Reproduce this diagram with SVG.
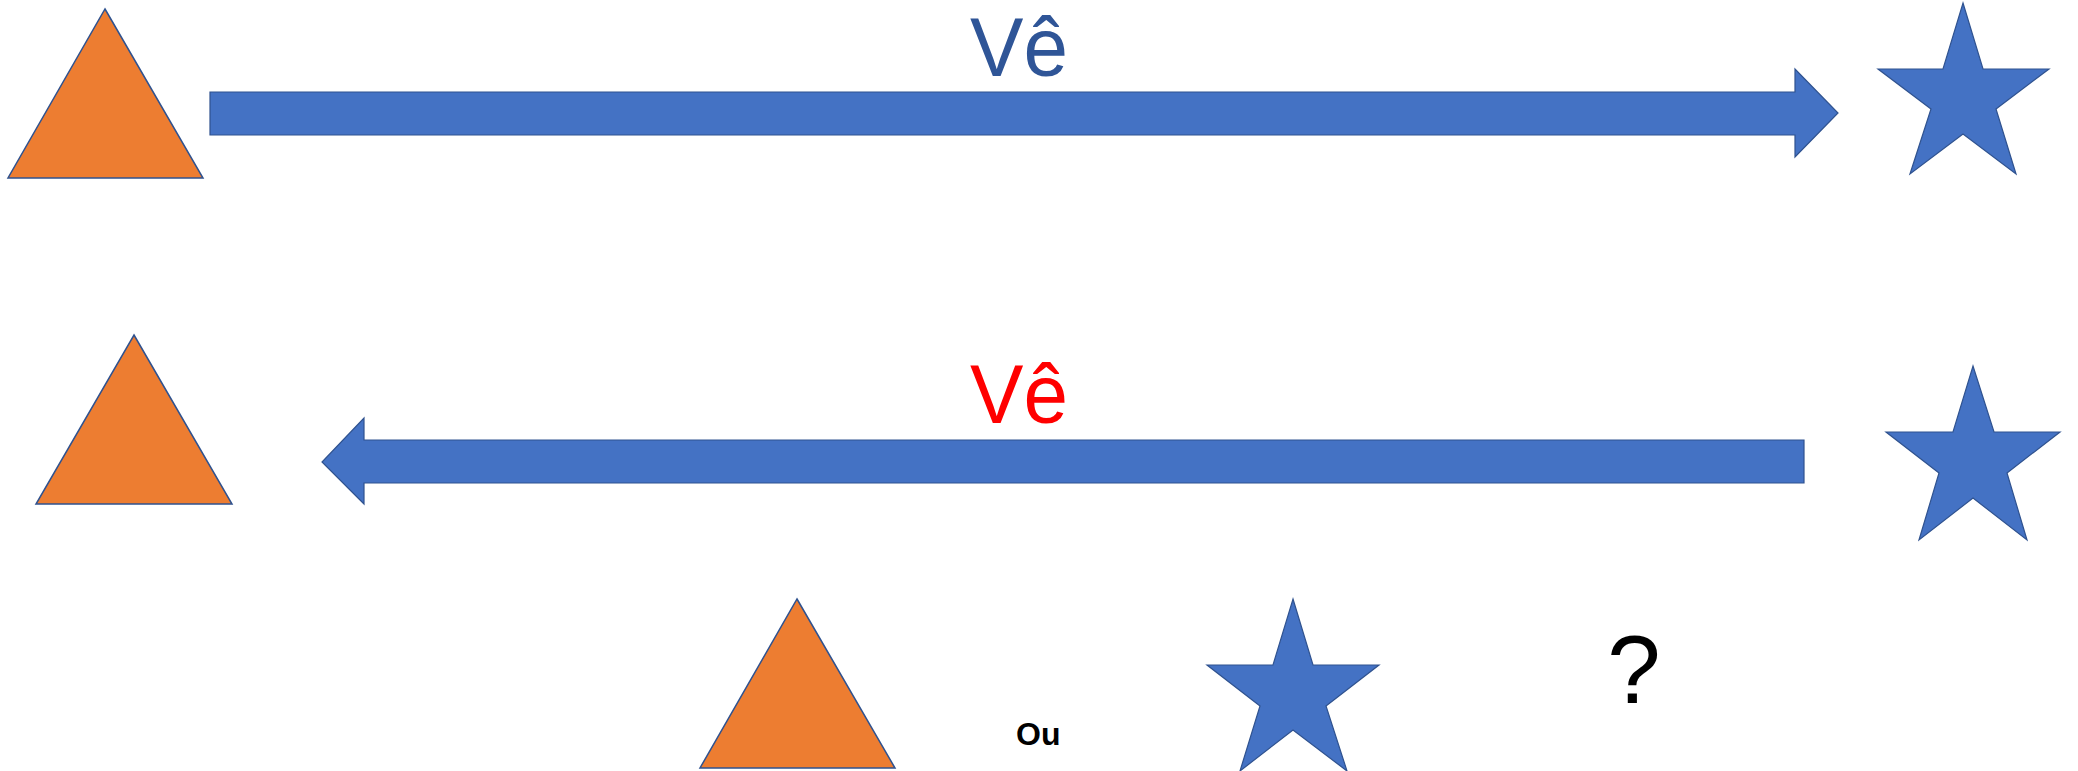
<svg xmlns="http://www.w3.org/2000/svg" width="2078" height="771" viewBox="0 0 2078 771">
<style>
.tri{fill:#ED7D31;stroke:#2F528F;stroke-width:1.5}
.star{fill:#4472C4;stroke:#2F528F;stroke-width:1.2}
.arr{fill:#4472C4;stroke:#2F528F;stroke-width:1.2}
.lbl{font-family:"Liberation Sans",Arial,sans-serif;font-size:83px}
.txt{font-family:"Liberation Sans",Arial,sans-serif;fill:#000}
</style>
<rect width="2078" height="771" fill="#fff"/>
<g id="triangle1"><polygon class="tri" points="105,9 203,178 8,178"/></g>
<g id="star1"><polygon class="star" points="1963,3 1983,69 2049,69 1996,109 2016,174 1963,134 1910,174 1931,109 1878,69 1943,69"/></g>
<g id="triangle2"><polygon class="tri" points="134,335 232,504 36,504"/></g>
<g id="star2"><polygon class="star" points="1973,366 1994,432 2060,432 2007,473 2027,540 1973,498 1919,540 1939,473 1886,432 1953,432"/></g>
<g id="triangle3"><polygon class="tri" points="797,599 895,768 700,768"/></g>
<g id="star3"><polygon class="star" points="1293,599 1313,665 1379,665 1326,706 1347,771 1293,730 1240,771 1260,706 1207,665 1273,665"/></g>
<g id="connectors">
<polygon class="arr" points="210,92 1795,92 1795,69 1838,113 1795,157 1795,135 210,135"/>
<text class="lbl" x="970" y="76" fill="#2F5597" textLength="98" lengthAdjust="spacingAndGlyphs">Vê</text>
<polygon class="arr" points="1804,440 364,440 364,418 322,462 364,504 364,483 1804,483"/>
<text class="lbl" x="970" y="423" fill="#FF0000" textLength="98" lengthAdjust="spacingAndGlyphs">Vê</text>
</g>
<g id="label-ou"><text class="txt" x="1016" y="745" font-size="32" font-weight="bold">Ou</text></g>
<g id="label-q"><text class="txt" x="1634" y="703" font-size="96" text-anchor="middle">?</text></g>
</svg>
